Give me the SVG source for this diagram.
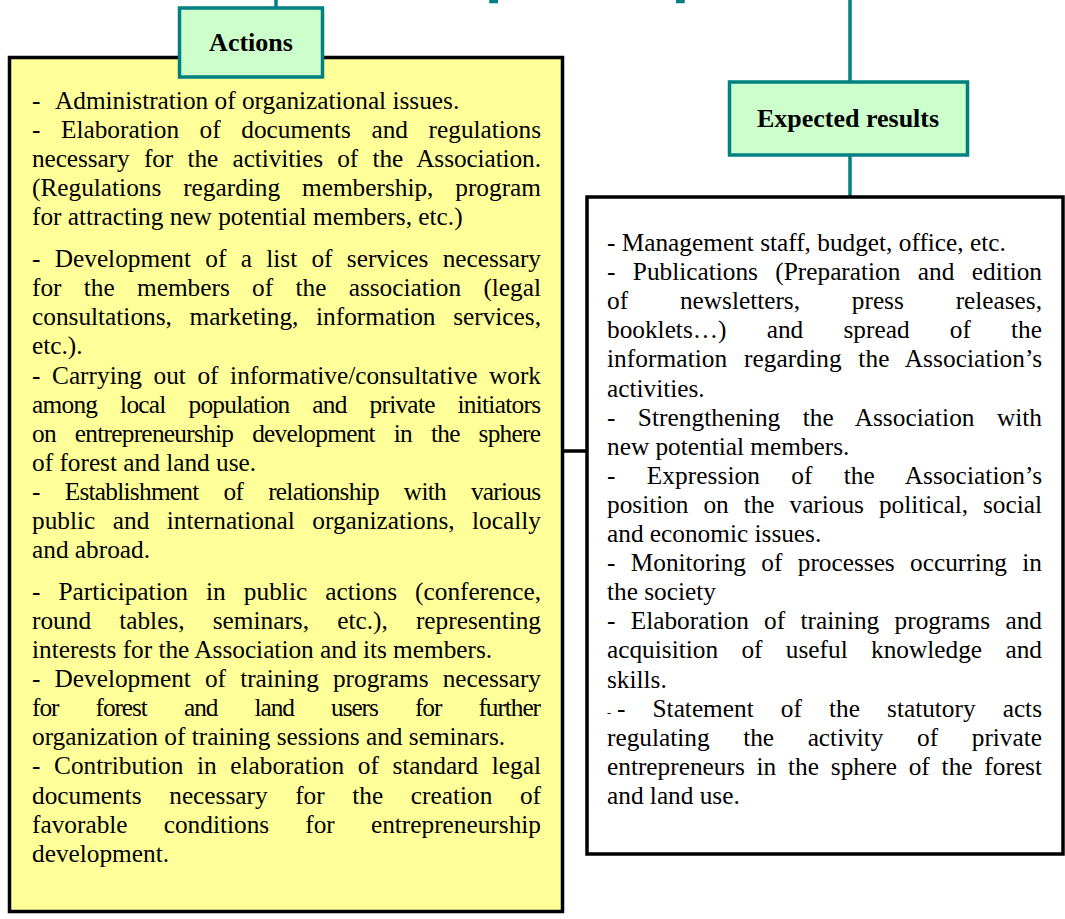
<svg xmlns="http://www.w3.org/2000/svg" width="1065" height="919" viewBox="0 0 1065 919">
<style>
.t{font-family:"Liberation Serif","Times New Roman",serif;font-size:25.3px;fill:#000}
.h{font-family:"Liberation Serif","Times New Roman",serif;font-size:26px;font-weight:bold;fill:#000;text-anchor:middle}
.hd{fill:#CCFFCC;stroke:#008080;stroke-width:3.5}
.tl{stroke:#008080;stroke-width:3.5;fill:none}
.bx{stroke:#000;stroke-width:3.5}
</style>
<rect width="1065" height="919" fill="#fff"/>
<g id="connectors">
<line class="tl" x1="276" y1="0" x2="276" y2="8"/>
<line class="tl" x1="850" y1="0" x2="850" y2="82"/>
<line class="tl" x1="850" y1="155" x2="850" y2="197"/>
<path class="tl" d="M491,0 V1.5 H498" stroke-width="3"/>
<path class="tl" d="M676,1.5 H683 V0" stroke-width="3"/>
<line x1="563" y1="451" x2="587" y2="451" stroke="#000" stroke-width="3.5"/>
</g>
<g id="actions-list">
<rect class="bx" x="9.5" y="57.5" width="553" height="854" fill="#FFFF99"/>
<text class="t" x="32" y="109">-</text>
<text class="t" x="55" y="109">Administration of organizational issues.</text>
<text class="t" x="32" y="138.1" word-spacing="14.24" textLength="509">- Elaboration of documents and regulations</text>
<text class="t" x="32" y="167.2" word-spacing="8.12" textLength="509">necessary for the activities of the Association.</text>
<text class="t" x="32" y="196.3" word-spacing="15.53" textLength="509">(Regulations regarding membership, program</text>
<text class="t" x="32" y="225.4">for attracting new potential members, etc.)</text>
<text class="t" x="32" y="267.1" word-spacing="7.97" textLength="509">- Development of a list of services necessary</text>
<text class="t" x="32" y="296.2" word-spacing="15.97" textLength="509">for the members of the association (legal</text>
<text class="t" x="32" y="325.3" word-spacing="11.3" textLength="509">consultations, marketing, information services,</text>
<text class="t" x="32" y="354.4">etc.).</text>
<text class="t" x="32" y="383.5" word-spacing="5.26" textLength="509">- Carrying out of informative/consultative work</text>
<text class="t" x="32" y="412.6" word-spacing="17.2" textLength="509">among local population and private initiators</text>
<text class="t" x="32" y="441.7" word-spacing="13.26" textLength="509">on entrepreneurship development in the sphere</text>
<text class="t" x="32" y="470.8">of forest and land use.</text>
<text class="t" x="32" y="499.9" word-spacing="19.4" textLength="509">- Establishment of relationship with various</text>
<text class="t" x="32" y="529" word-spacing="11.1" textLength="509">public and international organizations, locally</text>
<text class="t" x="32" y="558.1">and abroad.</text>
<text class="t" x="32" y="599.8" word-spacing="11.7" textLength="509">- Participation in public actions (conference,</text>
<text class="t" x="32" y="628.9" word-spacing="21.85" textLength="509">round tables, seminars, etc.), representing</text>
<text class="t" x="32" y="658">interests for the Association and its members.</text>
<text class="t" x="32" y="687.1" word-spacing="7.8" textLength="509">- Development of training programs necessary</text>
<text class="t" x="32" y="716.2" word-spacing="31.9" textLength="509">for forest and land users for further</text>
<text class="t" x="32" y="745.3">organization of training sessions and seminars.</text>
<text class="t" x="32" y="774.4" word-spacing="7.3" textLength="509">- Contribution in elaboration of standard legal</text>
<text class="t" x="32" y="803.5" word-spacing="21.3" textLength="509">documents necessary for the creation of</text>
<text class="t" x="32" y="832.6" word-spacing="29.8" textLength="509">favorable conditions for entrepreneurship</text>
<text class="t" x="32" y="861.7">development.</text>
</g>
<g id="actions">
<rect class="hd" x="179.5" y="8" width="143" height="69"/>
<text class="h" x="251" y="51">Actions</text>
</g>
<g id="expected-results">
<rect class="hd" x="729.5" y="82" width="238" height="73"/>
<text class="h" x="848" y="127">Expected results</text>
</g>
<g id="results-list">
<rect class="bx" x="587" y="197" width="476" height="657" fill="#fff"/>
<text class="t" x="607" y="251">- Management staff, budget, office, etc.</text>
<text class="t" x="607" y="280.1" word-spacing="11.1" textLength="435">- Publications (Preparation and edition</text>
<text class="t" x="607" y="309.2" word-spacing="45.5" textLength="435">of newsletters, press releases,</text>
<text class="t" x="607" y="338.3" word-spacing="33.9" textLength="435">booklets…) and spread of the</text>
<text class="t" x="607" y="367.4" word-spacing="10.3" textLength="435">information regarding the Association’s</text>
<text class="t" x="607" y="396.5">activities.</text>
<text class="t" x="607" y="425.6" word-spacing="16" textLength="435">- Strengthening the Association with</text>
<text class="t" x="607" y="454.7">new potential members.</text>
<text class="t" x="607" y="483.8" word-spacing="24.8" textLength="435">- Expression of the Association’s</text>
<text class="t" x="607" y="512.9" word-spacing="8.6" textLength="435">position on the various political, social</text>
<text class="t" x="607" y="542">and economic issues.</text>
<text class="t" x="607" y="571.1" word-spacing="9" textLength="435">- Monitoring of processes occurring in</text>
<text class="t" x="607" y="600.2">the society</text>
<text class="t" x="607" y="629.3" word-spacing="9" textLength="435">- Elaboration of training programs and</text>
<text class="t" x="607" y="658.4" word-spacing="17.05" textLength="435">acquisition of useful knowledge and</text>
<text class="t" x="607" y="687.5">skills.</text>
<text class="t" x="607" y="716.6" style="font-size:12px">-</text>
<text class="t" x="617" y="716.6" word-spacing="20.8" textLength="425">- Statement of the statutory acts</text>
<text class="t" x="607" y="745.7" word-spacing="27.25" textLength="435">regulating the activity of private</text>
<text class="t" x="607" y="774.8" word-spacing="5.5" textLength="435">entrepreneurs in the sphere of the forest</text>
<text class="t" x="607" y="803.9">and land use.</text>
</g>
</svg>
